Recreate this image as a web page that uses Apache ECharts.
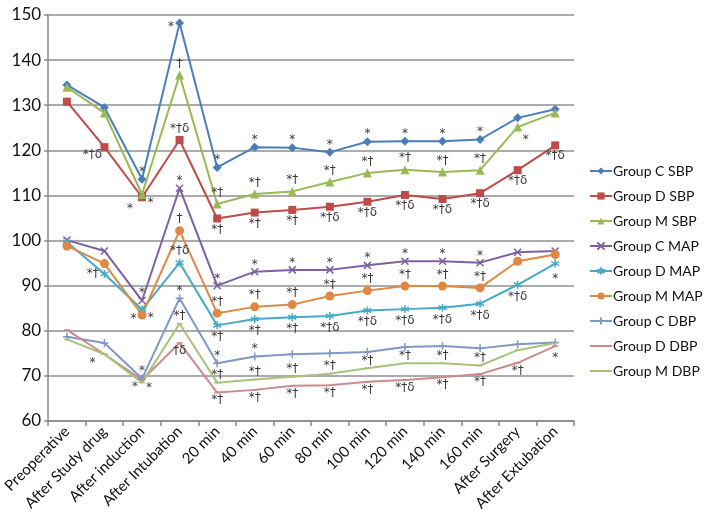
<!DOCTYPE html>
<html><head><meta charset="utf-8">
<script src="https://cdn.jsdelivr.net/npm/echarts@6/dist/echarts.min.js"></script>
<style>html,body{margin:0;padding:0;background:#fff}#c{width:704px;height:524px}</style>
</head><body><div id="c"></div>
<script>
var categories = ['Preoperative','After Study drug','After induction','After Intubation','20 min','40 min','60 min','80 min','100 min','120 min','140 min','160 min','After Surgery','After Extubation'];
var yTicks = {min: 60, max: 150, step: 10};

var groupCSBP = [134.5,129.5,113.6,148.2,116.2,120.7,120.6,119.6,121.9,122.0,122.0,122.4,127.2,129.1];
var groupDSBP = [130.8,120.7,109.6,122.3,104.9,106.2,106.8,107.5,108.6,110.1,109.2,110.5,115.6,121.1];
var groupMSBP = [134.0,128.3,110.2,136.7,108.1,110.3,110.9,113.0,115.0,115.7,115.2,115.6,125.2,128.3];
var groupCMAP = [100.1,97.7,86.7,111.6,90.0,93.1,93.5,93.5,94.5,95.4,95.4,95.1,97.4,97.7];
var groupDMAP = [99.7,92.6,84.7,95.1,81.2,82.6,83.0,83.3,84.5,84.8,85.1,86.0,90.2,94.9];
var groupMMAP = [98.8,94.9,83.5,102.2,83.9,85.3,85.8,87.7,88.9,89.9,89.9,89.5,95.4,96.9];
var groupCDBP = [78.7,77.3,69.4,87.2,72.8,74.3,74.8,75.0,75.3,76.4,76.6,76.1,77.0,77.4];
var groupDDBP = [80.2,74.8,69.1,77.3,66.3,66.9,67.8,67.9,68.7,69.1,69.7,70.4,72.9,76.6];
var groupMDBP = [78.1,74.8,68.5,81.6,68.5,69.2,69.8,70.5,71.7,72.8,72.8,72.3,75.7,77.3];

// significance marks per point
var marksCSBP = ['','','*','*','*','*','*','*','*','*','*','*','',''];
var marksDSBP = ['','*†δ','*','*†δ','*†','*†','*†','*†δ','*†δ','*†δ','*†δ','*†δ','*†δ','*†δ'];
var marksMSBP = ['','','*','†','*†','*†','*†','*†','*†','*†','*†','*†','*',''];
var marksCMAP = ['','','*','*','*','*','*','*','*','*','*','*','',''];
var marksDMAP = ['','*†','*','*†δ','*†','*†','*†','*†δ','*†δ','*†δ','*†δ','*†δ','*†δ','*'];
var marksMMAP = ['','','*','†','*†','*†','*†','*†','*†','*†','*†','*†','',''];
var marksCDBP = ['','','*','*','*','*','','','','','','','',''];
var marksDDBP = ['','','*','†δ','*†','*†','*†','*†','*†','*†δ','*†','*†','*†','*'];
var marksMDBP = ['','*','*','*†','*†','*†','*†','*†','*†','*†','*†','*†','',''];

// mark placement relative to point (t top, b bottom, l left, r right, lb left-below, rb right-below)
var placeCSBP = ['','','t','l','t','t','t','t','t','t','t','t','',''];
var placeDSBP = ['','lb','lb','t','b','b','b','b','b','b','b','b','b','b'];
var placeMSBP = ['','','r','t','t','t','t','t','t','t','t','t','rb',''];
var placeCMAP = ['','','t','t','t','t','t','t','t','t','t','t','',''];
var placeDMAP = ['','l','r','t','b','b','b','b','b','b','b','b','b','b'];
var placeMMAP = ['','','l','t','t','t','t','t','t','t','t','t','',''];
var placeCDBP = ['','','t','t','t','t','','','','','','','',''];
var placeDDBP = ['','','r','b','b','b','b','b','b','b','b','b','b','b'];
var placeMDBP = ['','lb','l','t','t','t','t','t','t','t','t','t','',''];

var FONT = 'Lato, "Open Sans", sans-serif';
var MARKFONT = '"DejaVu Sans", sans-serif';

function labelFor(txt, pl) {
  if (!txt) return {show: false};
  var adj = (txt === '*') ? 4 : 0;
  var l = {show: true, formatter: txt, color: '#3a3a3a', fontSize: 12, fontFamily: MARKFONT, distance: 1};
  if (pl === 't') { l.position = 'top'; l.offset = [0, adj]; }
  else if (pl === 'b') { l.position = 'bottom'; l.offset = [0, adj]; }
  else if (pl === 'l') { l.position = 'left'; l.offset = [0, adj]; }
  else if (pl === 'r') { l.position = 'right'; l.offset = [0, adj + 4]; }
  else if (pl === 'lb') { l.position = 'bottom'; l.distance = 0; l.offset = [-12, adj - 2]; }
  else if (pl === 'rb') { l.position = 'bottom'; l.distance = 0; l.offset = [8, adj - 2]; }
  return l;
}
function build(vals, marks, place) {
  return vals.map(function (v, i) { return {value: v, label: labelFor(marks[i], place[i])}; });
}

var xPath = 'path://M0,0L10,10M10,0L0,10';
var starPath = 'path://M5,0L5,10M0,2.5L10,7.5M10,2.5L0,7.5';
var plusPath = 'path://M5,0L5,10M0,5L10,5';

function mk(name, vals, marks, place, color, symbol, size, stroke) {
  return {
    name: name, type: 'line', data: build(vals, marks, place),
    symbol: symbol, symbolSize: size, showAllSymbol: true,
    lineStyle: {color: color, width: 2},
    itemStyle: stroke ? {color: color, borderColor: color, borderWidth: 1.5} : {color: color},
    emphasis: {disabled: true}, z: 2
  };
}

var series = [
  mk('Group C SBP', groupCSBP, marksCSBP, placeCSBP, '#4A7EBB', 'diamond', 9),
  mk('Group D SBP', groupDSBP, marksDSBP, placeDSBP, '#BE4B48', 'rect', 8),
  mk('Group M SBP', groupMSBP, marksMSBP, placeMSBP, '#98B954', 'triangle', 9),
  mk('Group C MAP', groupCMAP, marksCMAP, placeCMAP, '#7D60A0', xPath, 7, true),
  mk('Group D MAP', groupDMAP, marksDMAP, placeDMAP, '#46AAC5', starPath, 8, true),
  mk('Group M MAP', groupMMAP, marksMMAP, placeMMAP, '#DE8844', 'circle', 9),
  mk('Group C DBP', groupCDBP, marksCDBP, placeCDBP, '#8197C6', plusPath, 8, true),
  mk('Group D DBP', groupDDBP, marksDDBP, placeDDBP, '#C98C8A', 'rect', [6, 1.5]),
  mk('Group M DBP', groupMDBP, marksMDBP, placeMDBP, '#A7C27C', 'rect', [6, 1.5])
];

var legendData = series.map(function (s) {
  var d = {name: s.name};
  if (s.name === 'Group D DBP' || s.name === 'Group M DBP') d.itemStyle = {opacity: 0};
  return d;
});

var chart = echarts.init(document.getElementById('c'), null, {renderer: 'canvas'});
chart.setOption({
  animation: false,
  backgroundColor: '#fff',
  grid: {left: 47, right: 130, top: 15, bottom: 103, containLabel: false},
  legend: {
    orient: 'vertical', left: 584, top: 158, itemWidth: 22, itemHeight: 9, itemGap: 9,
    textStyle: {fontSize: 14, fontFamily: FONT, color: '#111', padding: [0, 0, 0, -4], lineHeight: 16},
    data: legendData
  },
  xAxis: {
    type: 'category', data: categories, boundaryGap: true,
    axisLine: {lineStyle: {color: '#888', width: 1.5}},
    axisTick: {show: true, length: 5, lineStyle: {color: '#888', width: 1.5}},
    axisLabel: {rotate: 45, interval: 0, fontSize: 15, fontFamily: FONT, color: '#111', margin: 8}
  },
  yAxis: {
    type: 'value', min: yTicks.min, max: yTicks.max, interval: yTicks.step,
    axisLine: {show: true, lineStyle: {color: '#888', width: 1.5}},
    axisTick: {show: true, length: 4, lineStyle: {color: '#888', width: 1.5}},
    axisLabel: {fontSize: 17, fontFamily: FONT, color: '#111', margin: 7},
    splitLine: {lineStyle: {color: '#8f8f8f', width: 1.5}}
  },
  series: series
});
</script></body></html>
